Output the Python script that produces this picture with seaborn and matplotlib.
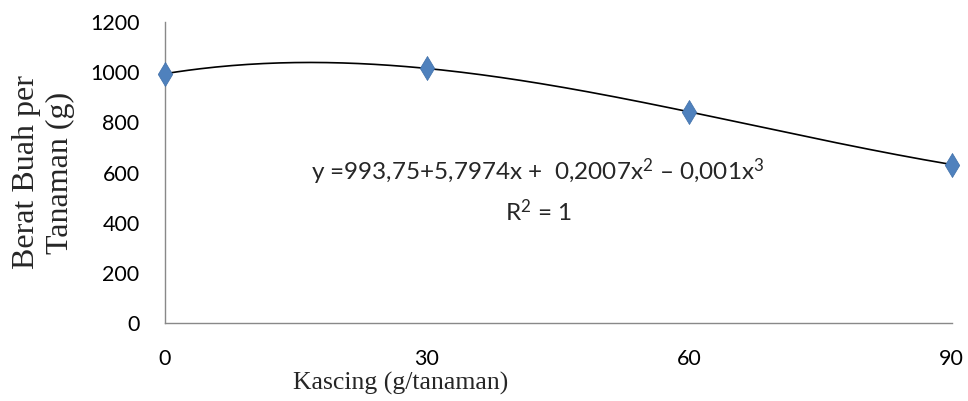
import numpy as np
import pandas as pd
import seaborn as sns
import matplotlib
matplotlib.use('Agg')
import matplotlib.pyplot as plt

# Kascing dose (g/tanaman) and fruit weight per plant (g)
kascing = [0, 30, 60, 90]
berat = [993.75, 1015, 842, 632]

x_ticks = [0, 30, 60, 90]
y_ticks = [0, 200, 400, 600, 800, 1000, 1200]

equation = r'y =993,75+5,7974x +  0,2007x$^{2}$ – 0,001x$^{3}$'
r_squared = r'R$^{2}$ = 1'

if __name__ == '__main__':
    sns.set_style('white')
    plt.rcParams['font.family'] = ['Lato', 'DejaVu Sans']
    plt.rcParams['mathtext.fontset'] = 'custom'
    plt.rcParams['mathtext.rm'] = 'Lato'
    plt.rcParams['mathtext.it'] = 'Lato'
    plt.rcParams['mathtext.default'] = 'regular'

    df = pd.DataFrame({'Kascing': kascing, 'Berat': berat})

    # cubic trendline through the points
    coef = np.polyfit(df['Kascing'], df['Berat'], 3)
    xs = np.linspace(min(kascing), max(kascing), 200)
    trend = pd.DataFrame({'Kascing': xs, 'Berat': np.polyval(coef, xs)})

    fig = plt.figure(figsize=(9.68, 4.01), dpi=100)
    ax = fig.add_axes([0.170, 0.1945, 0.813, 0.7505])

    sns.lineplot(data=trend, x='Kascing', y='Berat', color='black', linewidth=1.2, ax=ax, zorder=2)
    sns.scatterplot(data=df, x='Kascing', y='Berat', marker='d', s=150, color='#4F81BD',
                    edgecolor='#3F6FA8', linewidth=0.5, ax=ax, zorder=3, clip_on=False)

    ax.set_xlim(0, 90)
    ax.set_ylim(0, 1200)
    ax.set_xticks(x_ticks)
    ax.set_yticks(y_ticks)
    ax.tick_params(axis='both', length=0, labelsize=15.5, colors='black')
    ax.tick_params(axis='x', pad=19)
    ax.tick_params(axis='y', pad=18)

    for s in ['top', 'right']:
        ax.spines[s].set_visible(False)
    for s in ['left', 'bottom']:
        ax.spines[s].set_color('#898989')
        ax.spines[s].set_linewidth(1.0)

    ax.set_xlabel('Kascing (g/tanaman)', family='Liberation Serif', fontsize=18.5)
    ax.xaxis.set_label_coords(0.30, -0.162)
    ax.set_ylabel('Berat Buah per\nTanaman (g)', family='Liberation Serif', fontsize=23,
                  multialignment='center', linespacing=1.2)
    ax.yaxis.set_label_coords(-0.114, 0.50)

    ax.text(42.7, 602, equation, ha='center', va='center', fontsize=17.5)
    ax.text(42.7, 446, r_squared, ha='center', va='center', fontsize=17.5)

    plt.savefig('out.png', dpi=100)
    plt.close('all')
